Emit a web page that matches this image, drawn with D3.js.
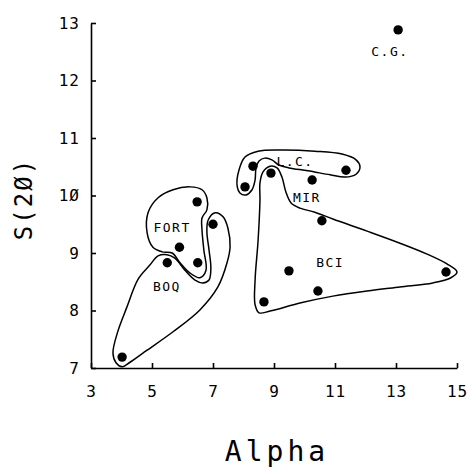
<!DOCTYPE html>
<html>
<head>
<meta charset="utf-8">
<script src="https://cdn.jsdelivr.net/npm/d3@7"></script>
<style>
  body { margin: 0; background: #fff; }
  text { font-family: "DejaVu Sans Mono", "Liberation Mono", monospace; fill: #000; }
</style>
</head>
<body>
<div id="chart"></div>
<script>
// plot points (alpha, S(20))
var alphaVals = [13.07, 6.48, 7.0, 5.9, 6.5, 5.5, 4.02, 8.31, 8.9, 8.05, 10.25, 11.36, 10.57, 9.49, 10.44, 8.67, 14.64];
var sVals     = [12.88, 9.89, 9.5, 9.1, 8.83, 8.83, 7.19, 10.51, 10.39, 10.15, 10.27, 10.44, 9.56, 8.69, 8.34, 8.15, 8.67];

// tick values
var xTicks = [3, 5, 7, 9, 11, 13, 15];
var yTicks = [7, 8, 9, 10, 11, 12, 13];

// group labels
var groupNames = ["C.G.", "L.C.", "MIR", "BCI", "FORT", "BOQ"];
var groupLabelX = [12.8, 9.69, 10.08, 10.84, 5.66, 5.49];
var groupLabelY = [12.5, 10.6, 9.97, 8.84, 9.45, 8.41];

// hand drawn group outlines, in data units
var fortOutline = [[6.25,10.15],[6.64,10.10],[6.80,9.96],[6.80,9.75],[6.64,9.61],[6.64,9.40],[6.70,9.05],
  [6.77,8.70],[6.57,8.57],[6.25,8.65],[5.92,8.83],[5.66,9.00],[5.33,9.02],[5.03,9.10],[4.84,9.35],
  [4.87,9.70],[5.20,9.96],[5.69,10.10]];
var boqOutline = [[4.93,8.79],[5.20,8.95],[5.49,8.97],[5.75,8.91],[6.08,8.70],[6.41,8.53],[6.67,8.48],
  [6.87,8.53],[6.93,8.74],[6.87,9.05],[6.80,9.37],[6.84,9.57],[7.07,9.70],[7.33,9.63],[7.49,9.43],
  [7.56,9.10],[7.46,8.83],[7.16,8.41],[6.57,8.01],[5.69,7.63],[4.84,7.31],[4.28,7.10],[4.02,7.02],
  [3.82,7.09],[3.72,7.26],[3.87,7.62],[4.17,8.05],[4.55,8.55]];
var lcOutline = [[7.79,10.17],[7.85,10.44],[8.05,10.67],[8.48,10.77],[9.26,10.79],[10.34,10.77],
  [11.23,10.72],[11.69,10.62],[11.82,10.50],[11.69,10.37],[11.33,10.32],[10.84,10.36],[10.11,10.43],
  [9.49,10.48],[9.16,10.53],[8.93,10.62],[8.70,10.65],[8.51,10.60],[8.41,10.48],[8.38,10.27],
  [8.28,10.10],[8.08,10.01],[7.89,10.04]];
var bciOutline = [[8.64,10.41],[8.87,10.51],[9.10,10.48],[9.26,10.32],[9.39,10.06],[9.56,9.87],
  [9.85,9.78],[10.34,9.71],[10.93,9.59],[12.05,9.38],[13.13,9.17],[14.02,8.98],[14.67,8.81],
  [15.00,8.67],[14.80,8.57],[14.21,8.48],[13.13,8.41],[12.05,8.34],[10.93,8.25],[9.85,8.13],
  [8.87,7.99],[8.51,7.96],[8.38,8.10],[8.38,8.53],[8.48,9.23],[8.54,9.92],[8.54,10.22]];

var width = 467, height = 470;
var plotLeft = 91, plotRight = 457, plotTop = 23, plotBottom = 368;

var svg = d3.select("#chart").append("svg")
  .attr("width", width)
  .attr("height", height);

var xScale = d3.scaleLinear().domain([3, 15]).range([plotLeft, plotRight]);
var yScale = d3.scaleLinear().domain([7, 13]).range([plotBottom, plotTop]);

// plotter style slashed zero
function slashZero(d) { return String(d).replace(/0/g, "\u00D8"); }

var xAxis = d3.axisBottom(xScale).tickValues(xTicks).tickSizeInner(-5).tickSizeOuter(0)
  .tickPadding(18).tickFormat(slashZero);
var yAxis = d3.axisLeft(yScale).tickValues(yTicks).tickSizeInner(-5).tickSizeOuter(0)
  .tickPadding(11).tickFormat(slashZero);

var gx = svg.append("g").attr("transform", "translate(0," + plotBottom + ")").call(xAxis);
var gy = svg.append("g").attr("transform", "translate(" + plotLeft + ",0)").call(yAxis);

[gx, gy].forEach(function(g) {
  g.selectAll("path, line").attr("stroke", "#000").attr("stroke-width", 1.6);
  g.selectAll("text").attr("font-size", 16).attr("letter-spacing", 1)
    .attr("font-family", "DejaVu Sans Mono").attr("fill", "#000");
});

// outlines
var outline = d3.line()
  .x(function(d) { return xScale(d[0]); })
  .y(function(d) { return yScale(d[1]); })
  .curve(d3.curveCatmullRomClosed.alpha(0.5));

[fortOutline, boqOutline, lcOutline, bciOutline].forEach(function(o) {
  svg.append("path")
    .attr("d", outline(o))
    .attr("fill", "none")
    .attr("stroke", "#000")
    .attr("stroke-width", 1.5);
});

// points
svg.selectAll("circle.pt")
  .data(alphaVals)
  .enter()
  .append("circle")
  .attr("class", "pt")
  .attr("cx", function(d) { return xScale(d); })
  .attr("cy", function(d, i) { return yScale(sVals[i]); })
  .attr("r", 4.7)
  .attr("fill", "#000");

// group labels
svg.selectAll("text.grp")
  .data(groupNames)
  .enter()
  .append("text")
  .attr("class", "grp")
  .attr("x", function(d, i) { return xScale(groupLabelX[i]); })
  .attr("y", function(d, i) { return yScale(groupLabelY[i]); })
  .attr("text-anchor", "middle")
  .attr("dominant-baseline", "central")
  .attr("font-size", 13)
  .attr("letter-spacing", 1.5)
  .text(function(d) { return d; });

// axis titles
svg.append("text")
  .attr("x", 277)
  .attr("y", 461)
  .attr("text-anchor", "middle")
  .attr("font-size", 28)
  .attr("letter-spacing", 4)
  .text("Alpha");

svg.append("text")
  .attr("transform", "translate(32,199)rotate(-90)")
  .attr("text-anchor", "middle")
  .attr("font-size", 24)
  .attr("letter-spacing", 2)
  .text("S(2\u00D8)");
</script>
</body>
</html>
